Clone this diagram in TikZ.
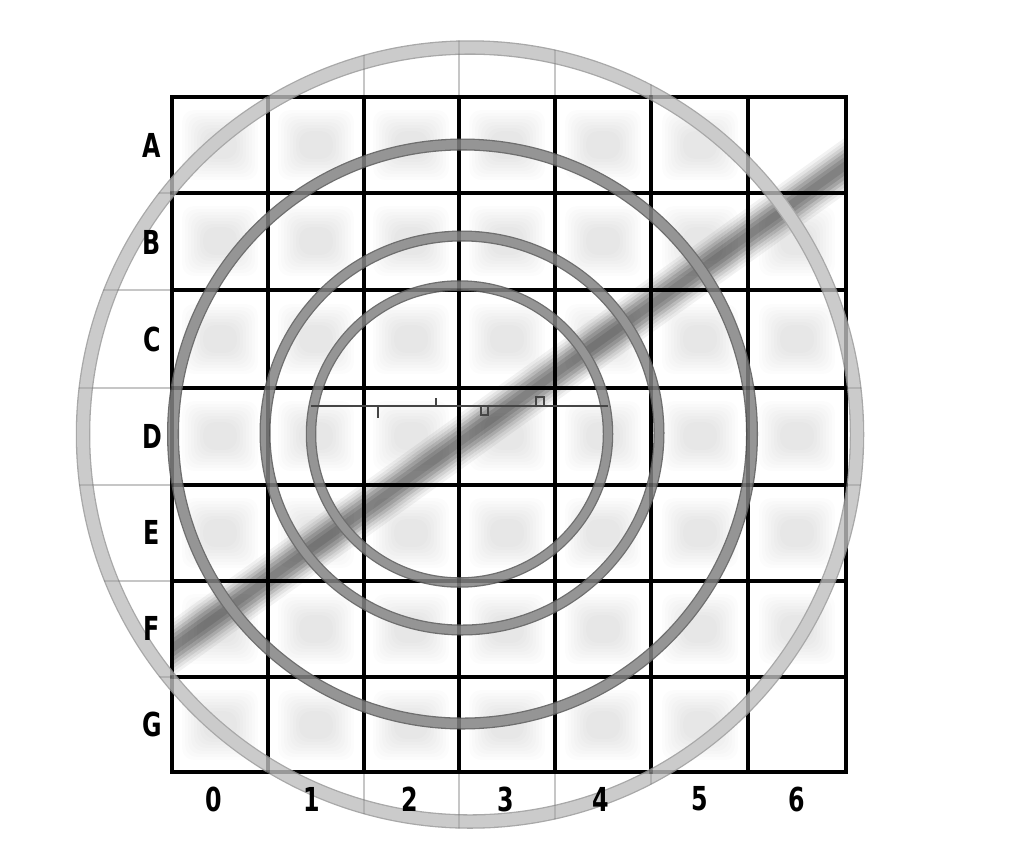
\documentclass[tikz,border=0pt]{standalone}
\usepackage{fontspec}
\setmainfont{DejaVu Sans}
\definecolor{ringfill}{HTML}{959595}
\definecolor{ringedge}{HTML}{6E6E6E}
\definecolor{outerfill}{HTML}{CBCBCB}
\definecolor{outeredge}{HTML}{A8A8A8}
\definecolor{extgray}{HTML}{E2E2E2}
\definecolor{dline}{HTML}{454545}
\tikzset{
  gridline/.style={black, line width=3.2pt, line cap=rect},
  extline/.style={extgray, line width=1.5pt},
  lbl/.style={font=\fontsize{33}{33}\selectfont\bfseries, inner sep=0pt, anchor=center},
  dmark/.style={dline, line width=2.8pt},
}
\newcommand{\myblob}[2]{%
  \foreach \s/\t in {38/35, 35/32, 32/29, 29/26, 26/23, 23/20, 20/17, 17/14}{%
    \fill[black, opacity=0.012, rounded corners=12pt] (#1-\s,#2-\t) rectangle (#1+\s,#2+\t);
  }%
}
\newcommand{\myring}[5]{% cx cy r width prefix
  \draw[#5edge, line width=#4pt] (#1,#2) circle[radius=#3];
  \draw[#5fill, line width=#4pt-2.6pt] (#1,#2) circle[radius=#3];
}
\begin{document}
\begin{tikzpicture}[x=1pt,y=-1pt]
\useasboundingbox (0,0) rectangle (1024,863);
\fill[white] (0,0) rectangle (1024,863);

% soft blobs in cells
\foreach \cx [count=\i] in {220,316,411,507,603,700,797}{
  \foreach \cy [count=\j] in {145,241,339,436,533,629,725}{
    \pgfmathtruncatemacro\skipit{(\i==7)&&((\j==1)||(\j==7))}
    \ifnum\skipit=0 \myblob{\cx}{\cy}\fi
  }
}

% diagonal band clipped to grid
\begin{scope}
  \clip (172,97) rectangle (846,772);
  \coordinate (bandA) at (150,664);
  \coordinate (bandB) at (870,148);
  \foreach \w/\o in {46/0.05, 40/0.06, 34/0.08, 28/0.1, 22/0.12, 15/0.12, 8/0.1}{
    \draw[black, opacity=\o, line width=\w pt] (bandA) -- (bandB);
  }
\end{scope}

% faint extension lines to the outer ring
\begin{scope}
  \clip (470,434.5) circle[radius=394];
  \foreach \x in {268,364,459,555,651,748}{
    \draw[extline] (\x,0) -- (\x,97);
    \draw[extline] (\x,772) -- (\x,863);
  }
  \foreach \y in {193,290,388,485,581,677}{
    \draw[extline] (0,\y) -- (172,\y);
    \draw[extline] (846,\y) -- (1024,\y);
  }
\end{scope}

% grid
\foreach \x in {172,268,364,459,555,651,748,846}{
  \draw[gridline] (\x,97) -- (\x,772);
}
\foreach \y in {97,193,290,388,485,581,677,772}{
  \draw[gridline] (172,\y) -- (846,\y);
}

% rings
\myring{470}{434.5}{387}{14.5}{outer}
\myring{462.5}{434}{289.5}{12}{ring}
\myring{462}{433}{197}{11}{ring}
\myring{459.5}{434}{148.5}{10.5}{ring}

% grid showing faintly through the rings
\begin{scope}
  \foreach \x in {172,268,364,459,555,651,748,846}{
    \draw[gridline, opacity=0.25] (\x,97) -- (\x,772);
  }
  \foreach \y in {97,193,290,388,485,581,677,772}{
    \draw[gridline, opacity=0.25] (172,\y) -- (846,\y);
  }
  \clip (470,434.5) circle[radius=394];
  \foreach \x in {268,364,459,555,651,748}{
    \draw[black, opacity=0.12, line width=1.5pt] (\x,0) -- (\x,97);
    \draw[black, opacity=0.12, line width=1.5pt] (\x,772) -- (\x,863);
  }
  \foreach \y in {193,290,388,485,581,677}{
    \draw[black, opacity=0.12, line width=1.5pt] (0,\y) -- (172,\y);
    \draw[black, opacity=0.12, line width=1.5pt] (846,\y) -- (1024,\y);
  }
\end{scope}

% line with ticks in row D
\coordinate (dl) at (311,406);
\coordinate (dr) at (608,406);
\draw[dmark] (dl) -- (dr);
\draw[dmark] (378,406) -- (378,418);
\draw[dmark] (436,406) -- (436,398);
\draw[dmark, line width=2pt] (481,406) -- (481,415) -- (488,415) -- (488,406);
\draw[dmark, line width=2pt] (536,406) -- (536,397) -- (544,397) -- (544,406);

% row labels
\foreach \t/\y [count=\k] in {A/145,B/242,C/339,D/436,E/532,F/628,G/724}{
  \node[lbl] (row\k) at (152,\y) {\scalebox{0.72}[1]{\t}};
}
% column labels
\foreach \t/\x [count=\k] in {0/214,1/312,2/410,3/506,4/601,5/700,6/797}{
  \node[lbl] (col\k) at (\x,799) {\scalebox{0.72}[1]{\t}};
}
\end{tikzpicture}
\end{document}
